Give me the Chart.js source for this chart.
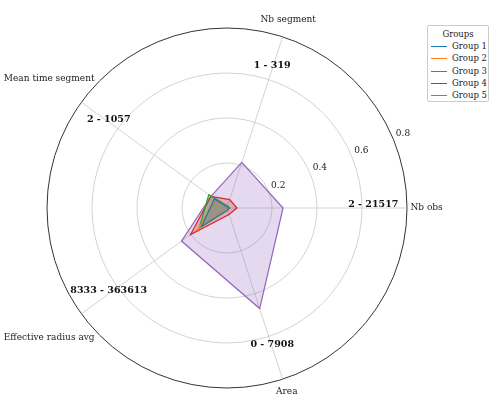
<!DOCTYPE html>
<html><head><meta charset="utf-8">
<script src="https://cdn.jsdelivr.net/npm/chart.js@4"></script>
<style>
html,body{margin:0;padding:0;background:#fff;}
#wrap{position:relative;width:500px;height:415px;}
#lg{position:absolute;left:427px;top:25px;width:62px;height:77px;border:1px solid #ccc;border-radius:2px;background:#fff;font:8.5px "DejaVu Serif";color:#222;box-sizing:border-box;white-space:nowrap;}
#lg .t{text-align:center;margin-top:3px;height:12px;}
#lg .r{height:12.3px;position:relative;}
#lg .r span.l{position:absolute;left:3px;top:5px;width:16px;height:0;border-top:1.5px solid;}
#lg .r span.x{position:absolute;left:24px;top:0;}
</style></head>
<body><div id="wrap"><canvas id="c" width="500" height="415"></canvas><div id="lg"><div class="t">Groups</div></div></div>
<script>
const categories = ["Nb obs","Area","Effective radius avg","Mean time segment","Nb segment"];
const rangeLabels = ["2 - 21517","0 - 7908","8333 - 363613","2 - 1057","1 - 319"];
const tickValues = [0.2,0.4,0.6,0.8];
const groupNames = ["Group 1","Group 2","Group 3","Group 4","Group 5"];
const group1 = [0.01,0.01,0.14,0.07,0.005];
const group2 = [0.005,0.01,0.16,0.06,0.005];
const group3 = [0.012,0.01,0.153,0.10,0.01];
const group4 = [0.044,0.03,0.20,0.088,0.039];
const group5 = [0.249,0.47,0.25,0.088,0.213];
const colors = ["#1f77b4","#ff7f0e","#2ca02c","#d62728","#9467bd"];
const series = [group1,group2,group3,group4,group5];

const lg=document.getElementById('lg');
groupNames.forEach((n,i)=>{const r=document.createElement('div');r.className='r';
r.innerHTML='<span class="l" style="border-color:'+colors[i]+'"></span><span class="x">'+n+'</span>';lg.appendChild(r);});

function rgba(h,a){const n=parseInt(h.slice(1),16);return `rgba(${n>>16},${(n>>8)&255},${n&255},${a})`;}

const overlay={id:'overlay',afterDraw(chart){
 const s=chart.scales.r,ctx=chart.ctx;ctx.save();
 ctx.fillStyle='#222';ctx.textAlign='center';ctx.textBaseline='middle';
 ctx.font='9px "DejaVu Serif"';
 const a=-22.5*Math.PI/180;
 tickValues.forEach(v=>{const d=s.getDistanceFromCenterForValue(v)+4;
   ctx.fillText(String(v),s.xCenter+Math.cos(a)*d+6,s.yCenter+Math.sin(a)*d-4);});
 categories.forEach((c,i)=>{const w=ctx.measureText(c).width;
   const ang=s.getIndexAngle(i)-Math.PI/2;const co=Math.cos(ang),si=Math.sin(ang);
   const d=s.drawingArea+6+Math.abs(co)*w*0.42+Math.abs(si)*5;
   ctx.fillText(c,s.xCenter+co*d,s.yCenter+si*d);});
 ctx.font='bold 9.5px "DejaVu Serif"';ctx.fillStyle='#111';
 rangeLabels.forEach((c,i)=>{const p=s.getPointPosition(i,s.getDistanceFromCenterForValue(0.65));
   ctx.fillText(c,p.x,p.y-3);});
 ctx.restore();}};

new Chart(document.getElementById('c'),{type:'radar',
 data:{labels:categories,datasets:series.map((d,i)=>({label:groupNames[i],data:d,borderColor:colors[i],
   backgroundColor:rgba(colors[i],0.25),borderWidth:1.2,pointRadius:0,fill:true}))},
 options:{responsive:false,animation:false,layout:{padding:{left:47,right:93,top:28,bottom:27}},
  plugins:{legend:{display:false},tooltip:{enabled:false}},
  elements:{line:{tension:0}},
  scales:{r:{min:0,max:0.8,startAngle:90,
   ticks:{display:false,stepSize:0.2},
   pointLabels:{display:false},
   grid:{circular:true,color:ctx=>ctx.index===4?'#333':'#c8c8c8',lineWidth:ctx=>ctx.index===4?1:0.8},
   angleLines:{color:'#c8c8c8',lineWidth:0.8}}}},
 plugins:[overlay]});
</script></body></html>
